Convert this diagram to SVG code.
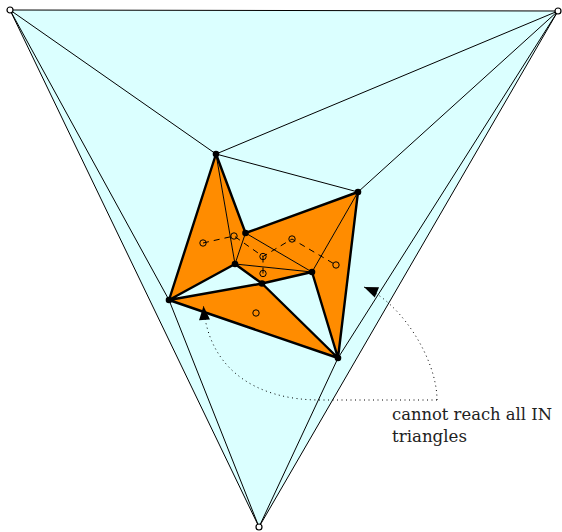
<svg xmlns="http://www.w3.org/2000/svg" width="562" height="532" viewBox="0 0 562 532">
<style>
.thin{stroke:#000;stroke-width:1;fill:none}
.thick{stroke:#000;stroke-width:2.4;fill:none;stroke-linejoin:round}
.org{fill:#ff8c00;stroke:none}
.dash{stroke:#000;stroke-width:1;fill:none;stroke-dasharray:6 5}
.dot{stroke:#000;stroke-width:1;fill:none;stroke-dasharray:1 3.5}
.oc{fill:none;stroke:#000;stroke-width:1}
.vo{fill:#fff;stroke:#000;stroke-width:1.2}
.vf{fill:#000}
text{font-family:"DejaVu Serif","Liberation Serif",serif;font-size:17px;fill:#222}
</style>
<defs>
<marker id="ah" markerUnits="userSpaceOnUse" markerWidth="18" markerHeight="14" refX="16" refY="7" orient="auto">
<path d="M2,1.5 L16,7 L2,12.5 z" fill="#000"/>
</marker>
</defs>
<g id="outer">
<polygon points="10,10 558,11 259,527" fill="#dbffff" stroke="#000" stroke-width="1"/>
</g>
<g id="faces">
<polygon class="org" points="216,154 169,300 235,264"/>
<polygon class="org" points="216,154 235,264 245.5,233"/>
<polygon class="org" points="245.5,233 358,192 312,272"/>
<polygon class="org" points="358,192 338,358 312,272"/>
<polygon class="org" points="245.5,233 235,264 312,272"/>
<polygon class="org" points="235,264 262,283.5 312,272"/>
<polygon class="org" points="169,300 262,283.5 338,358"/>
</g>
<g id="connectors">
<path class="thin" d="M10,10 L216,154 M10,10 L169,300 M558,11 L216,154 M558,11 L358,192 M558,11 L338,358 M259,527 L169,300 M259,527 L338,358 M216,154 L358,192 M216,154 L235,264 M245.5,233 L235,264 M245.5,233 L312,272 M235,264 L312,272 M358,192 L312,272"/>
<path class="thick" d="M216,154 L169,300 L235,264 L262,283.5 L312,272 L338,358 L358,192 L245.5,233 Z M169,300 L262,283.5 L338,358 L169,300 Z"/>
<path class="dash" d="M203,243 L234,236 L263,256.5 L292,239 L336,265 M263,256.5 L263,273.5"/>
<path class="dot" d="M437,400 L320,400 C255,400 208,368 203.5,306" marker-end="url(#ah)"/>
<path class="dot" d="M437,400 C437,360 402,303 364,287" marker-end="url(#ah)"/>
</g>
<g id="vertices">
<circle class="vo" cx="10" cy="10" r="3"/>
<circle class="vo" cx="558" cy="11" r="3"/>
<circle class="vo" cx="259" cy="527" r="3"/>
<circle class="vf" cx="216" cy="154" r="3.3"/>
<circle class="vf" cx="358" cy="192" r="3.3"/>
<circle class="vf" cx="169" cy="300" r="3.3"/>
<circle class="vf" cx="338" cy="358" r="3.3"/>
<circle class="vf" cx="245.5" cy="233" r="3.3"/>
<circle class="vf" cx="235" cy="264" r="3.3"/>
<circle class="vf" cx="312" cy="272" r="3.3"/>
<circle class="vf" cx="262" cy="283.5" r="3.3"/>
</g>
<g id="centers">
<circle class="oc" cx="203" cy="243" r="3.2"/>
<circle class="oc" cx="234" cy="236" r="3.2"/>
<circle class="oc" cx="292" cy="239" r="3.2"/>
<circle class="oc" cx="336" cy="265" r="3.2"/>
<circle class="oc" cx="263" cy="256.5" r="3.2"/>
<circle class="oc" cx="263" cy="273.5" r="3.2"/>
<circle class="oc" cx="256" cy="313" r="3.2"/>
</g>
<g id="label">
<text x="392" y="420" textLength="160" lengthAdjust="spacingAndGlyphs">cannot reach all IN</text>
<text x="392" y="442" textLength="75" lengthAdjust="spacingAndGlyphs">triangles</text>
</g>
</svg>
